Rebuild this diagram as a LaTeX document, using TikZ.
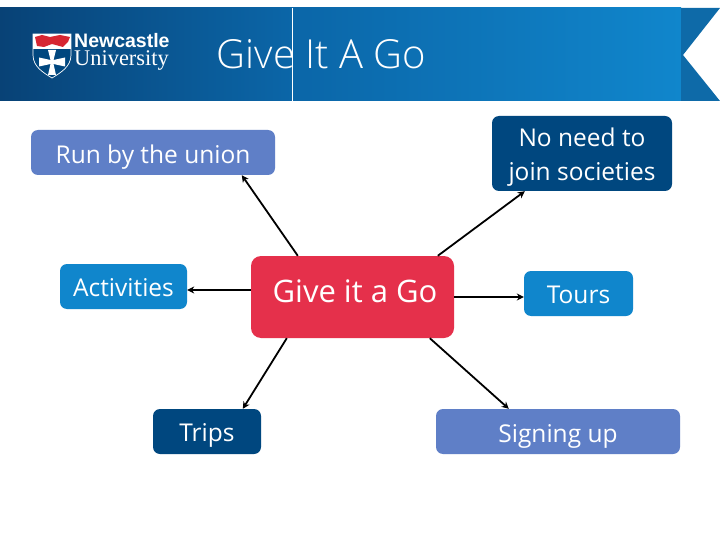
\documentclass[tikz,border=0pt]{standalone}
\usepackage{fontspec}
\setmainfont{Open Sans}
\newfontfamily\titlefont{Open Sans}[UprightFont={* Light}]
\newfontfamily\logosans{Liberation Sans}
\newfontfamily\logoserif{Liberation Serif}
\definecolor{ncldark}{RGB}{0,71,127}
\definecolor{nclblue}{RGB}{16,134,204}
\definecolor{nclslate}{RGB}{95,127,199}
\definecolor{nclred}{RGB}{229,48,75}
\definecolor{nclband}{RGB}{14,106,168}
\definecolor{nclstart}{RGB}{8,66,118}
\definecolor{nclmid}{RGB}{11,102,168}
\definecolor{lionred}{RGB}{214,38,50}
\usetikzlibrary{arrows.meta,positioning,calc}
\newcommand{\dropline}[2]{\raisebox{-#1pt}[0pt][0pt]{#2}}

\begin{document}
\begin{tikzpicture}[
  x=1pt,y=-1pt,
  topicbox/.style={rounded corners=7pt,text=white,inner sep=0pt,align=center,
                   font=\fontsize{24.5}{34}\selectfont},
  linkarrow/.style={-{Stealth[length=7pt,width=7pt]},line width=1.8pt,black},
]
  \useasboundingbox (0,0) rectangle (720,540);
  \fill[white] (0,0) rectangle (720,540);

  % Header
  \fill[left color=nclstart,right color=nclmid] (0,8) rectangle (293,101);
  \fill[left color=nclmid,right color=nclblue] (293,8) rectangle (681,101);
  \fill[nclband] (681,8) -- (720,8) -- (683,55) -- (720,101) -- (681,101) -- cycle;
  \node[font=\titlefont\fontsize{40}{40}\selectfont,text=white,inner sep=0pt] (title) at (321.5,54) {Give It A Go};
  \draw[white,line width=0.8pt] (292.5,8) -- (292.5,101);

  % Logo
  \fill[ncldark,draw=white,line width=0.7pt] (33,34) -- (71,34) -- (71,55)
    .. controls (71,67) and (60,73) .. (52,78) .. controls (44,73) and (33,67) .. (33,55) -- cycle;
  \fill[white] (33,34) rectangle (71,49);
  \fill[lionred] (35,37) -- (42,35) -- (50,37) -- (60,35) -- (70,37) -- (68,42) -- (63,47) -- (52,44) -- (44,47) -- (37,46) -- cycle;
  \fill[white] (48,50) -- (56,50) -- (53.5,60) -- (65,57.5) -- (65,66.5) -- (53.5,64) -- (56,75) -- (48,75)
    -- (50.5,64) -- (39,66.5) -- (39,57.5) -- (50.5,60) -- cycle;
  \node[font=\logosans\bfseries\fontsize{19.5}{19.5}\selectfont,text=white,inner sep=0pt,anchor=base west] (logoa) at (74,48) {Newcastle};
  \node[font=\logoserif\fontsize{22.4}{22.4}\selectfont,text=white,inner sep=0pt,anchor=base west] (logob) at (74,66) {University};

  % Topic boxes
  \node[topicbox,fill=nclslate,minimum width=244pt,minimum height=45pt] (runby) at (153,152.5) {\dropline{11}{Run by the union}};
  \node[topicbox,fill=nclblue,minimum width=127pt,minimum height=45pt] (activities) at (123.5,286.5) {\dropline{9.5}{Activities}};
  \node[topicbox,fill=ncldark,minimum width=180pt,minimum height=75pt] (noneed) at (582,153.5)
    {\dropline{26.8}{\begin{tabular}[b]{@{}c@{}}No need to\\join societies\end{tabular}}};
  \node[topicbox,fill=nclblue,minimum width=109pt,minimum height=45pt] (tours) at (578.5,293.5) {\dropline{10}{Tours}};
  \node[topicbox,fill=ncldark,minimum width=108pt,minimum height=45pt] (trips) at (207,431.5) {\dropline{10}{Trips}};
  \node[topicbox,fill=nclslate,minimum width=244pt,minimum height=45pt] (signing) at (558,431.5) {\dropline{11}{Signing up}};
  \node[topicbox,fill=nclred,rounded corners=10pt,minimum width=203pt,minimum height=82pt,
        font=\fontsize{31}{34}\selectfont] (giveit) at (352.5,297) {\dropline{5}{\hspace{5pt}Give it a Go}};

  % Arrows
  \draw[linkarrow] ([xshift=47pt]giveit.north west) -- ([xshift=211pt]runby.south west);
  \draw[linkarrow] ([yshift=7pt]giveit.west) -- ([yshift=-3.5pt]activities.east);
  \draw[linkarrow] ([xshift=187pt]giveit.north west) -- ([xshift=33pt]noneed.south west);
  \draw[linkarrow] (giveit.east) -- ([yshift=-3.5pt]tours.west);
  \draw[linkarrow] ([xshift=36pt]giveit.south west) -- ([xshift=90pt]trips.north west);
  \draw[linkarrow] ([xshift=179pt]giveit.south west) -- ([xshift=73pt]signing.north west);
\end{tikzpicture}
\end{document}
